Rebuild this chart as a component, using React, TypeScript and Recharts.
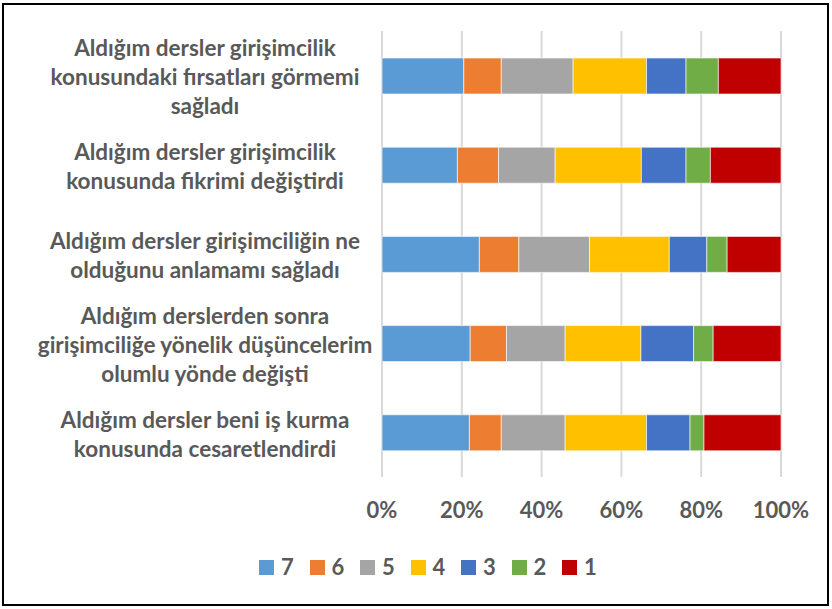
import React from 'react';
import { BarChart, Bar, XAxis, YAxis, CartesianGrid, Legend } from 'recharts';

const categories = [
  'Aldığım dersler girişimcilik konusundaki fırsatları görmemi sağladı',
  'Aldığım dersler girişimcilik konusunda fikrimi değiştirdi',
  'Aldığım dersler girişimciliğin ne olduğunu anlamamı sağladı',
  'Aldığım derslerden sonra girişimciliğe yönelik düşüncelerim olumlu yönde değişti',
  'Aldığım dersler beni iş kurma konusunda cesaretlendirdi',
];

const categoryLines = [
  ['Aldığım dersler girişimcilik', 'konusundaki fırsatları görmemi', 'sağladı'],
  ['Aldığım dersler girişimcilik', 'konusunda fikrimi değiştirdi'],
  ['Aldığım dersler girişimciliğin ne', 'olduğunu anlamamı sağladı'],
  ['Aldığım derslerden sonra', 'girişimciliğe yönelik düşüncelerim', 'olumlu yönde değişti'],
  ['Aldığım dersler beni iş kurma', 'konusunda cesaretlendirdi'],
];

const seriesKeys = ['7', '6', '5', '4', '3', '2', '1'];
const seriesColors = ['#5B9BD5', '#ED7D31', '#A5A5A5', '#FFC000', '#4472C4', '#70AD47', '#C00000'];

const s7 = [20.5, 18.9, 24.4, 22.1, 21.9];
const s6 = [9.4, 10.3, 9.9, 9.1, 8.0];
const s5 = [18.0, 14.2, 17.7, 14.7, 16.0];
const s4 = [18.4, 21.6, 20.0, 19.0, 20.4];
const s3 = [9.9, 11.2, 9.4, 13.2, 10.9];
const s2 = [8.1, 6.1, 5.1, 4.9, 3.5];
const s1 = [15.7, 17.7, 13.5, 17.0, 19.3];

const xTicks = [0, 0.2, 0.4, 0.6, 0.8, 1];

const seriesValues = [s7, s6, s5, s4, s3, s2, s1];

const data = categories.map((name, i) => {
  const row: Record<string, any> = { name, idx: i };
  seriesKeys.forEach((k, j) => {
    row[k] = seriesValues[j][i];
  });
  return row;
});

const TEXT = '#595959';
const FONT = 'Lato, "Liberation Sans", sans-serif';

const YTick = (props: any) => {
  const { y, payload } = props;
  const lines = categoryLines[payload.index] || [String(payload.value)];
  const lh = 29;
  const start = y - ((lines.length - 1) * lh) / 2 + 2;
  return (
    <text
      x={205}
      y={start}
      textAnchor="middle"
      fill={TEXT}
      fontSize={22.5}
      fontWeight={700}
      fontFamily={FONT}
    >
      {lines.map((l: string, i: number) => (
        <tspan key={i} x={205} y={start + i * lh} dy="0.35em">
          {l}
        </tspan>
      ))}
    </text>
  );
};

const LegendContent = () => (
  <div style={{ display: 'flex', paddingLeft: 259, height: 22, alignItems: 'center' }}>
    {seriesKeys.map((k, i) => (
      <div key={k} style={{ display: 'flex', alignItems: 'center', width: 50.5 }}>
        <div style={{ width: 15, height: 15, background: seriesColors[i], marginRight: 7 }} />
        <span style={{ color: TEXT, fontSize: 22, fontWeight: 700, fontFamily: FONT, lineHeight: '22px' }}>{k}</span>
      </div>
    ))}
  </div>
);

export default function App() {
  return (
    <div style={{ position: 'absolute', left: 0, top: 0, width: 832, height: 609, background: '#fff' }}>
      <div
        style={{
          position: 'absolute',
          left: 2,
          top: 3,
          width: 823,
          height: 599,
          border: '2px solid #000',
        }}
      />
      <div style={{ position: 'absolute', left: 0, top: 0 }}>
        <BarChart
          width={832}
          height={609}
          data={data}
          layout="vertical"
          stackOffset="expand"
          barSize={36}
          margin={{ top: 31, right: 51, left: 0, bottom: 31 }}
        >
          <CartesianGrid horizontal={false} stroke="#D9D9D9" strokeWidth={2} />
          <XAxis
            type="number"
            domain={[0, 1]}
            ticks={xTicks}
            tickFormatter={(v: number) => `${Math.round(v * 100)}%`}
            axisLine={false}
            tickLine={false}
            height={79}
            tickMargin={19}
            tick={{ fill: TEXT, fontSize: 22, fontWeight: 700, fontFamily: FONT }}
            interval={0}
          />
          <YAxis
            type="category"
            dataKey="name"
            width={382}
            axisLine={false}
            tickLine={false}
            tick={<YTick />}
            interval={0}
          />
          <Legend verticalAlign="bottom" height={22} content={<LegendContent />} wrapperStyle={{ left: 0, width: 832 }} />
          {seriesKeys.map((k, i) => (
            <Bar
              key={k}
              dataKey={k}
              stackId="a"
              fill={seriesColors[i]}
              stroke="#ffffff"
              strokeWidth={0.6}
              isAnimationActive={false}
            />
          ))}
        </BarChart>
      </div>
    </div>
  );
}
